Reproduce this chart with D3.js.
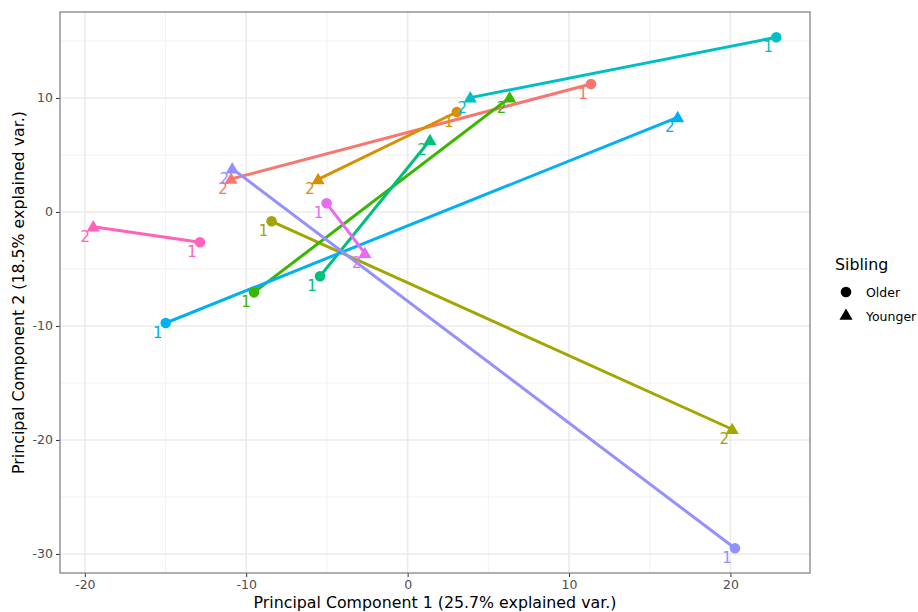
<!DOCTYPE html>
<html>
<head>
<meta charset="utf-8">
<script src="https://cdn.jsdelivr.net/npm/d3@7"></script>
<style>
body { margin: 0; background: #fff; }
text { font-family: "DejaVu Sans", sans-serif; }
</style>
</head>
<body>
<script>
// one pair of siblings per family, older = "1", younger = "2"
var families = ["F1","F2","F3","F4","F5","F6","F7","F8","F9","F10"];
var colors = ["#F8766D","#D89000","#A3A500","#39B600","#00BF7D","#00BFC4","#00B0F6","#9590FF","#E76BF3","#FF62BC"];
var olderPC1 = [11.36, 3.05, -8.43, -9.52, -5.43, 22.84, -14.99, 20.28, -5.02, -12.87];
var olderPC2 = [11.23, 8.77, -0.82, -7.05, -5.64, 15.32, -9.74, -29.5, 0.76, -2.66];
var youngerPC1 = [-10.94, -5.55, 20.11, 6.32, 1.38, 3.88, 16.73, -10.87, -2.65, -19.48];
var youngerPC2 = [2.89, 2.86, -19.06, 10.03, 6.29, 10.03, 8.3, 3.8, -3.62, -1.29];
var xTicks = [-20, -10, 0, 10, 20];
var yTicks = [-30, -20, -10, 0, 10];
var siblings = ["Older", "Younger"];

var width = 918, height = 612;
var pLeft = 60, pRight = 810, pTop = 12, pBottom = 573;

var svg = d3.select("body")
			.append("svg")
			.attr("width", width)
			.attr("height", height);

var x = d3.scaleLinear().domain([-21.54, 24.93]).range([pLeft, pRight]);
var y = d3.scaleLinear().domain([-31.67, 17.54]).range([pBottom, pTop]);

//grid, minor then major
var xMinor = [-15, -5, 5, 15];
var yMinor = [-25, -15, -5, 5, 15];
var grid = svg.append("g");
grid.selectAll(".vmin").data(xMinor).enter().append("line")
	.attr("x1", d => x(d)).attr("x2", d => x(d)).attr("y1", pTop).attr("y2", pBottom)
	.style("stroke", "#F2F2F2").style("stroke-width", 1);
grid.selectAll(".hmin").data(yMinor).enter().append("line")
	.attr("y1", d => y(d)).attr("y2", d => y(d)).attr("x1", pLeft).attr("x2", pRight)
	.style("stroke", "#F2F2F2").style("stroke-width", 1);
grid.selectAll(".vmaj").data(xTicks).enter().append("line")
	.attr("x1", d => x(d)).attr("x2", d => x(d)).attr("y1", pTop).attr("y2", pBottom)
	.style("stroke", "#EBEBEB").style("stroke-width", 1.6);
grid.selectAll(".hmaj").data(yTicks).enter().append("line")
	.attr("y1", d => y(d)).attr("y2", d => y(d)).attr("x1", pLeft).attr("x2", pRight)
	.style("stroke", "#EBEBEB").style("stroke-width", 1.6);

//axes
var fmt = d => String(d);
var xAxis = svg.append("g")
	.attr("transform", "translate(0," + pBottom + ")")
	.call(d3.axisBottom(x).tickValues(xTicks).tickFormat(fmt).tickSize(4).tickPadding(3));
var yAxis = svg.append("g")
	.attr("transform", "translate(" + pLeft + ",0)")
	.call(d3.axisLeft(y).tickValues(yTicks).tickFormat(fmt).tickSize(4).tickPadding(3));
[xAxis, yAxis].forEach(function(a){
	a.select(".domain").remove();
	a.selectAll(".tick line").style("stroke", "#333333");
	a.selectAll(".tick text").style("fill", "#4D4D4D").style("font-size", "12.5px")
		.style("font-family", "DejaVu Sans");
});

svg.append("rect")
	.attr("x", pLeft).attr("y", pTop)
	.attr("width", pRight - pLeft).attr("height", pBottom - pTop)
	.style("fill", "none").style("stroke", "#7A7A7A").style("stroke-width", 1.2);

//segments
var idx = d3.range(families.length);
svg.selectAll(".pair").data(idx).enter().append("line")
	.attr("x1", i => x(olderPC1[i])).attr("y1", i => y(olderPC2[i]))
	.attr("x2", i => x(youngerPC1[i])).attr("y2", i => y(youngerPC2[i]))
	.style("stroke", i => colors[i]).style("stroke-width", 3);

var tri = d3.symbol().type(d3.symbolTriangle).size(75);

svg.selectAll(".older").data(idx).enter().append("circle")
	.attr("cx", i => x(olderPC1[i])).attr("cy", i => y(olderPC2[i]))
	.attr("r", 5.3).style("fill", i => colors[i]);
svg.selectAll(".younger").data(idx).enter().append("path")
	.attr("d", tri)
	.attr("transform", i => "translate(" + x(youngerPC1[i]) + "," + (y(youngerPC2[i]) + 1) + ")")
	.style("fill", i => colors[i]);

//labels
svg.selectAll(".lab1").data(idx).enter().append("text")
	.attr("x", i => x(olderPC1[i]) - 8).attr("y", i => y(olderPC2[i]) + 15)
	.attr("text-anchor", "middle").style("font-size", "15px")
	.style("fill", i => colors[i]).text("1");
svg.selectAll(".lab2").data(idx).enter().append("text")
	.attr("x", i => x(youngerPC1[i]) - 8).attr("y", i => y(youngerPC2[i]) + 15)
	.attr("text-anchor", "middle").style("font-size", "15px")
	.style("fill", i => colors[i]).text("2");

//axis titles
svg.append("text")
	.attr("x", (pLeft + pRight) / 2).attr("y", 608)
	.attr("text-anchor", "middle").style("font-size", "15.8px")
	.text("Principal Component 1 (25.7% explained var.)");
svg.append("text")
	.attr("transform", "translate(24," + ((pTop + pBottom) / 2) + ") rotate(-90)")
	.attr("text-anchor", "middle").style("font-size", "15.8px")
	.text("Principal Component 2 (18.5% explained var.)");

//legend
var legend = svg.append("g");
legend.append("text").attr("x", 835).attr("y", 270).style("font-size", "15.8px").text("Sibling");
legend.append("circle").attr("cx", 846).attr("cy", 292).attr("r", 5.3).style("fill", "black");
legend.append("path").attr("d", tri).attr("transform", "translate(846,316)").style("fill", "black");
legend.selectAll(".ltxt").data(siblings).enter().append("text")
	.attr("x", 866).attr("y", (d, i) => 297 + i * 24)
	.style("font-size", "12.5px").text(d => d);
</script>
</body>
</html>
